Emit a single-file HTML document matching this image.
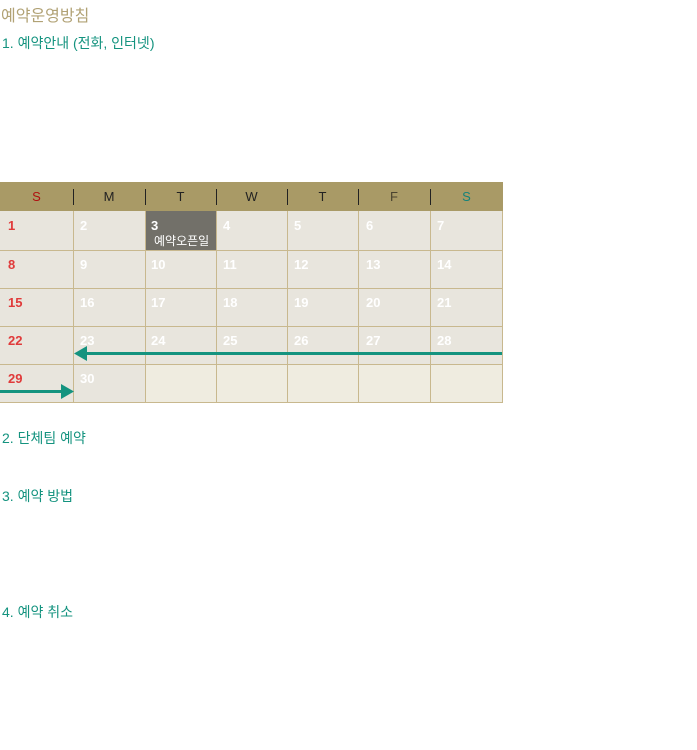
<!DOCTYPE html>
<html><head><meta charset="utf-8"><style>
body{margin:0;width:697px;height:750px;background:#fff;position:relative;overflow:hidden;font-family:"Liberation Sans","Noto Sans CJK KR",sans-serif}
.a{position:absolute;white-space:nowrap}
.h{color:#14937f;font-size:14px}
.c{position:absolute;background:#e8e5dd;border-right:1px solid #c8b88e;border-bottom:1px solid #c8b88e;box-sizing:border-box}
.e{background:#efece0}
.n{position:absolute;color:#fff;font-size:13px;font-weight:bold}
.r{color:#e03a3a}
.hd{position:absolute;top:182px;height:29px;line-height:29px;font-size:13px;text-align:center;color:#222}
.dv{position:absolute;top:189px;width:1px;height:16px;background:#222}
</style></head><body>
<div class="a" style="left:1px;top:2px;font-size:16px;color:#b1a275">예약운영방침</div>
<div class="a h" style="left:2px;top:33px">1. 예약안내 (전화, 인터넷)</div>
<div class="a h" style="left:2px;top:428px">2. 단체팀 예약</div>
<div class="a h" style="left:2px;top:486px">3. 예약 방법</div>
<div class="a h" style="left:2px;top:602px">4. 예약 취소</div>

<div style="position:absolute;left:0;top:182px;width:503px;height:29px;background:#a99a66"></div>
<div class="hd" style="left:0;width:73px;color:#b01010">S</div>
<div class="hd" style="left:73px;width:72px">M</div>
<div class="hd" style="left:145px;width:71px">T</div>
<div class="hd" style="left:216px;width:71px">W</div>
<div class="hd" style="left:287px;width:71px">T</div>
<div class="hd" style="left:358px;width:72px;color:#4a4330">F</div>
<div class="hd" style="left:430px;width:73px;color:#14837a">S</div>
<div class="dv" style="left:73px"></div><div class="dv" style="left:145px"></div><div class="dv" style="left:216px"></div><div class="dv" style="left:287px"></div><div class="dv" style="left:358px"></div><div class="dv" style="left:430px"></div>

<div style="position:absolute;left:0;top:211px;width:1px;height:192px;background:#c8b88e"></div>

<!-- row1 -->
<div class="c" style="left:0;top:211px;width:74px;height:40px"></div>
<div class="c" style="left:74px;top:211px;width:72px;height:40px"></div>
<div class="c" style="left:146px;top:211px;width:71px;height:40px;background:#727069"></div>
<div class="c" style="left:217px;top:211px;width:71px;height:40px"></div>
<div class="c" style="left:288px;top:211px;width:71px;height:40px"></div>
<div class="c" style="left:359px;top:211px;width:72px;height:40px"></div>
<div class="c" style="left:431px;top:211px;width:72px;height:40px"></div>
<!-- row2-4 -->
<div class="c" style="left:0;top:251px;width:74px;height:38px"></div><div class="c" style="left:74px;top:251px;width:72px;height:38px"></div><div class="c" style="left:146px;top:251px;width:71px;height:38px"></div><div class="c" style="left:217px;top:251px;width:71px;height:38px"></div><div class="c" style="left:288px;top:251px;width:71px;height:38px"></div><div class="c" style="left:359px;top:251px;width:72px;height:38px"></div><div class="c" style="left:431px;top:251px;width:72px;height:38px"></div>
<div class="c" style="left:0;top:289px;width:74px;height:38px"></div><div class="c" style="left:74px;top:289px;width:72px;height:38px"></div><div class="c" style="left:146px;top:289px;width:71px;height:38px"></div><div class="c" style="left:217px;top:289px;width:71px;height:38px"></div><div class="c" style="left:288px;top:289px;width:71px;height:38px"></div><div class="c" style="left:359px;top:289px;width:72px;height:38px"></div><div class="c" style="left:431px;top:289px;width:72px;height:38px"></div>
<div class="c" style="left:0;top:327px;width:74px;height:38px"></div><div class="c" style="left:74px;top:327px;width:72px;height:38px"></div><div class="c" style="left:146px;top:327px;width:71px;height:38px"></div><div class="c" style="left:217px;top:327px;width:71px;height:38px"></div><div class="c" style="left:288px;top:327px;width:71px;height:38px"></div><div class="c" style="left:359px;top:327px;width:72px;height:38px"></div><div class="c" style="left:431px;top:327px;width:72px;height:38px"></div>
<div class="c" style="left:0;top:365px;width:74px;height:38px"></div><div class="c" style="left:74px;top:365px;width:72px;height:38px"></div><div class="c e" style="left:146px;top:365px;width:71px;height:38px"></div><div class="c e" style="left:217px;top:365px;width:71px;height:38px"></div><div class="c e" style="left:288px;top:365px;width:71px;height:38px"></div><div class="c e" style="left:359px;top:365px;width:72px;height:38px"></div><div class="c e" style="left:431px;top:365px;width:72px;height:38px"></div>

<!-- numbers -->
<div class="n r" style="left:8px;top:218px">1</div><div class="n" style="left:80px;top:218px">2</div><div class="n" style="left:151px;top:218px">3</div><div class="n" style="left:223px;top:218px">4</div><div class="n" style="left:294px;top:218px">5</div><div class="n" style="left:366px;top:218px">6</div><div class="n" style="left:437px;top:218px">7</div>
<div class="a" style="left:154px;top:232px;color:#fff;font-size:12px">예약오픈일</div>
<div class="n r" style="left:8px;top:257px">8</div><div class="n" style="left:80px;top:257px">9</div><div class="n" style="left:151px;top:257px">10</div><div class="n" style="left:223px;top:257px">11</div><div class="n" style="left:294px;top:257px">12</div><div class="n" style="left:366px;top:257px">13</div><div class="n" style="left:437px;top:257px">14</div>
<div class="n r" style="left:8px;top:295px">15</div><div class="n" style="left:80px;top:295px">16</div><div class="n" style="left:151px;top:295px">17</div><div class="n" style="left:223px;top:295px">18</div><div class="n" style="left:294px;top:295px">19</div><div class="n" style="left:366px;top:295px">20</div><div class="n" style="left:437px;top:295px">21</div>
<div class="n r" style="left:8px;top:333px">22</div><div class="n" style="left:80px;top:333px">23</div><div class="n" style="left:151px;top:333px">24</div><div class="n" style="left:223px;top:333px">25</div><div class="n" style="left:294px;top:333px">26</div><div class="n" style="left:366px;top:333px">27</div><div class="n" style="left:437px;top:333px">28</div>
<div class="n r" style="left:8px;top:371px">29</div><div class="n" style="left:80px;top:371px">30</div>

<svg style="position:absolute;left:0;top:0" width="697" height="750">
<rect x="86" y="352" width="416" height="3" fill="#14937f"/>
<polygon points="74,353.5 87,346 87,361" fill="#14937f"/>
<rect x="0" y="390" width="62" height="3" fill="#14937f"/>
<polygon points="74,391.5 61,384 61,399" fill="#14937f"/>
</svg>
</body></html>
